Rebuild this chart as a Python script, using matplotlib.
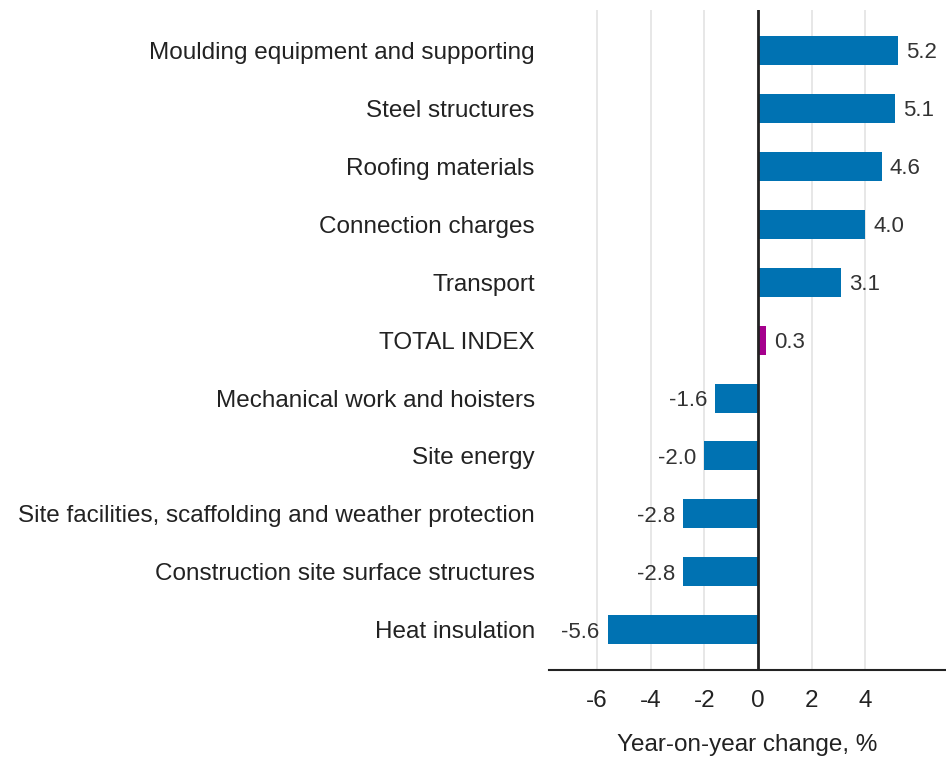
import matplotlib.pyplot as plt
import numpy as np

plt.rcParams['font.family'] = ['Liberation Sans', 'DejaVu Sans']

categories = ['Moulding equipment and supporting', 'Steel structures', 'Roofing materials',
              'Connection charges', 'Transport', 'TOTAL INDEX',
              'Mechanical work and hoisters', 'Site energy',
              'Site facilities, scaffolding and weather protection',
              'Construction site surface structures', 'Heat insulation']
values = [5.2, 5.1, 4.6, 4.0, 3.1, 0.3, -1.6, -2.0, -2.8, -2.8, -5.6]
highlight = 'TOTAL INDEX'
xticks = [-6, -4, -2, 0, 2, 4]

blue = '#0072b2'
magenta = '#a5008d'

fig = plt.figure(figsize=(9.46, 7.6), dpi=100)
ax = fig.add_axes([0.580, 0.118, 0.420, 0.869])

index = np.arange(len(categories))
colors = [magenta if c == highlight else blue for c in categories]
bars = ax.barh(index, values, height=0.5, color=colors, zorder=3)

for b, v in zip(bars, values):
    y = b.get_y() + b.get_height() / 2
    if v >= 0:
        ax.text(v + 0.3, y, '%.1f' % v, ha='left', va='center_baseline', fontsize=16, color='#333333')
    else:
        ax.text(v - 0.3, y, '%.1f' % v, ha='right', va='center_baseline', fontsize=16, color='#333333')

ax.set_xlim(-7.8, 7.0)
ax.set_ylim(10.7, -0.7)
ax.set_xticks(xticks)
ax.set_xticklabels([str(t) for t in xticks])
ax.set_yticks(index)
ax.set_yticklabels(categories)
ax.tick_params(axis='both', length=0, labelsize=17.5, colors='#222222')
ax.tick_params(axis='y', pad=10)
ax.tick_params(axis='x', pad=14)

ax.grid(axis='x', color='#e3e3e3', linewidth=1.2, zorder=0)
ax.axvline(0, color='#222222', linewidth=2, zorder=4)
for s in ['top', 'right', 'left']:
    ax.spines[s].set_visible(False)
ax.spines['bottom'].set_color('#222222')
ax.spines['bottom'].set_linewidth(1.5)

ax.set_xlabel('Year-on-year change, %', fontsize=17.5, color='#222222', labelpad=16)

fig.savefig('out.png', dpi=100)
